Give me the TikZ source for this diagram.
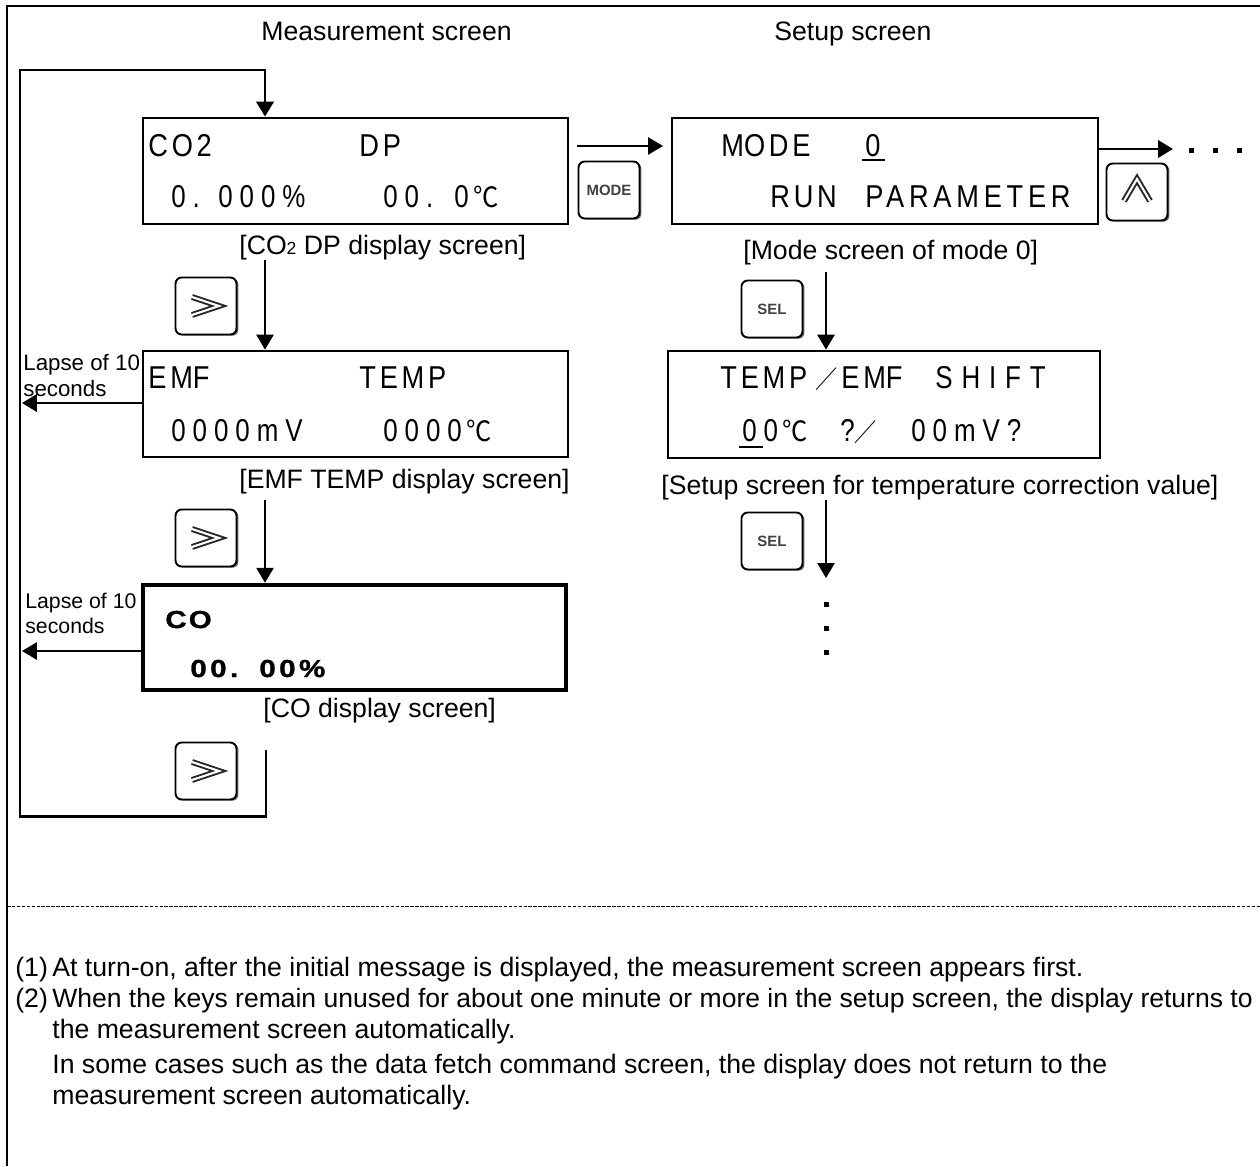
\documentclass[tikz,border=0pt]{standalone}
\usepackage{fontspec}
\setmainfont{Liberation Sans}
\newfontfamily\lcdfont[FakeStretch=0.82,LetterSpace=22]{Liberation Sans}
\newfontfamily\lcdwide[FakeStretch=0.82,LetterSpace=28]{Liberation Sans}
\newfontfamily\lcdtight[FakeStretch=0.86,LetterSpace=12]{Liberation Sans}
\newfontfamily\lcdmid[FakeStretch=0.86,LetterSpace=15]{Liberation Sans}
\newfontfamily\lcdheavy[FakeStretch=1.2,LetterSpace=14,FakeBold=1.2]{Liberation Sans Bold}
\newfontfamily\degfont[FakeStretch=0.9]{Noto Sans CJK JP}
\newcommand{\degC}{\kern2.5pt{\degfont\fontsize{16}{16}\selectfont ℃}}
\newcommand{\wideslash}{{\degfont\fontsize{14}{14}\selectfont ／}}
\usetikzlibrary{arrows.meta,shadows}

\tikzset{
    screen/.style={draw, line width=1.6pt, inner sep=0pt},
    lcd/.style={anchor=base west, inner sep=0pt, font=\lcdfont\fontsize{18}{18}\selectfont},
    lcdword/.style={anchor=base west, inner sep=0pt, font=\lcdtight\fontsize{18}{18}\selectfont},
    lcdlong/.style={anchor=base west, inner sep=0pt, font=\lcdmid\fontsize{18}{18}\selectfont},
    lcdspaced/.style={anchor=base west, inner sep=0pt, font=\lcdwide\fontsize{18}{18}\selectfont},
    lcdbold/.style={anchor=base west, inner sep=0pt, font=\lcdheavy\fontsize{14}{14}\selectfont},
    caption/.style={anchor=base west, inner sep=0pt, font=\fontsize{15.17}{15.17}\selectfont},
    lapse/.style={anchor=base west, inner sep=0pt, font=\fontsize{12.7}{12.7}\selectfont},
    lapsesmall/.style={anchor=base west, inner sep=0pt, font=\fontsize{12.1}{12.1}\selectfont},
    keycap/.style={draw, line width=1.1pt, rounded corners=3.5pt, fill=white,
        minimum width=1.22cm, minimum height=1.14cm, inner sep=0pt,
        general shadow={fill=black!60, shadow xshift=1.1pt, shadow yshift=-0.7pt},
        font=\bfseries\fontsize{8.5}{8.5}\selectfont, text=black!75},
    chevron/.style={draw=black!85, double=white, line width=1.1pt, double distance=1.2pt, line join=miter},
    wire/.style={->, line width=1.1pt},
    wireb/.style={->, line width=1.7pt},
}

\begin{document}
\begin{tikzpicture}[x=0.02cm, y=-0.02cm, >={Triangle[length=8.5pt,width=9.8pt]}]

    % ── Page: pixel coordinates of the 1260x1166 image, y downwards ──────────
    \useasboundingbox (0,0) rectangle (1260,1166);

    % Frame has only a left and a top edge
    \draw[line width=1.2pt] (7,1166) -- (7,6) -- (1260,6);
    \draw[line width=0.4pt, dash pattern=on 2pt off 0.8pt] (7,906) -- (1260,906);

    % ── Headings ─────────────────────────────────────────────────────────────
    \node[caption] (measurehead) at (261,41) {Measurement screen};
    \node[caption] (setuphead) at (774,41) {Setup screen};

    % ── Screens ──────────────────────────────────────────────────────────────
    \node[screen, minimum width=8.5cm, minimum height=2.12cm] (codp) at (355.5,171) {};
    \node[screen, minimum width=8.5cm, minimum height=2.12cm] (emf) at (355.5,404) {};
    \node[screen, line width=2.6pt, minimum width=8.46cm, minimum height=2.1cm] (co) at (354.5,637.5) {};
    \node[screen, minimum width=8.52cm, minimum height=2.12cm] (mode) at (885,171) {};
    \node[screen, minimum width=8.64cm, minimum height=2.14cm] (temp) at (884,404.5) {};

    % CO2 DP
    \node[lcdword] (codpa) at (148,156) {CO2};
    \node[lcdword] (codpb) at (359,156) {DP};
    \node[lcd] (codpc) at (171,207) {0.};
    \node[lcd] (codpd) at (218,207) {000\%};
    \node[lcd] (codpe) at (383,207) {00.};
    \node[lcd] (codpf) at (454,207) {0\degC};
    \node[caption] (codpcap) at (239,254) {[CO{\fontsize{10}{10}\selectfont 2} DP display screen]};

    % EMF TEMP
    \node[lcdword] (emfa) at (148,388) {EM\kern0pt F};
    \node[lcdword] (emfb) at (359,388) {TEMP};
    \node[lcd] (emfc) at (171,441) {0000mV};
    \node[lcd] (emfd) at (383,441) {0000\degC};
    \node[caption] (emfcap) at (239,488) {[EMF TEMP display screen]};

    % CO
    \node[lcdbold] (coa) at (165,628) {C\kern1.2pt O};
    \node[lcdbold] (cob) at (190,677) {00.};
    \node[lcdbold] (coc) at (259,677) {00\%};
    \node[caption] (cocap) at (263,717) {[CO display screen]};

    % Mode 0
    \node[lcdword] (modea) at (721,156) {M\kern0pt ODE};
    \node[lcdword] (modeb) at (865,156) {0};
    \node[lcdword] (modec) at (770,207) {RUN};
    \node[lcdlong] (moded) at (865,207) {PARAMETER};
    \draw[line width=0.9pt] (862,160) -- (885,160);
    \node[caption] (modecap) at (743,259) {[Mode screen of mode 0]};

    % Temperature correction
    \node[lcdword] (tempa) at (720,388) {TEMP};
    \node[lcdword] (tempb) at (815,388) {\wideslash};
    \node[lcdword] (tempc) at (841,388) {EM\kern0pt F};
    \node[lcdspaced] (tempd) at (935,388) {SHIFT};
    \node[lcd] (tempe) at (742,441) {00\degC};
    \node[lcd] (tempf) at (840,441) {?};
    \node[lcd] (tempg) at (854,441) {\wideslash};
    \node[lcd] (temph) at (911,441) {00mV?};
    \draw[line width=0.9pt] (739,447) -- (763,447);
    \node[caption] (tempcap) at (661,494) {[Setup screen for temperature correction value]};

    % ── Keys ─────────────────────────────────────────────────────────────────
    \node[keycap] (modekey) at (609,190) {MODE};
    \node[keycap] (upkey) at (1137,192) {};
    \node[keycap] (selA) at (772,309) {SEL};
    \node[keycap] (selB) at (772,541) {SEL};
    \node[keycap] (nextA) at (206,306) {};
    \node[keycap] (nextB) at (206,538) {};
    \node[keycap] (nextC) at (206,771) {};

    \foreach \k in {nextA,nextB,nextC}
        \draw[chevron] (\k.center) ++(-14,-9) -- ++(27,9) -- ++(-27,9);
    \draw[chevron] (upkey.center) ++(-13,9) -- ++(13,-22) -- ++(13,22);

    % ── Connectors ───────────────────────────────────────────────────────────
    \coordinate (loopend) at (266,750);
    \coordinate (looptop) at (265,70);
    \coordinate (modefrom) at (577,146);
    \coordinate (modeto) at (663,146);
    \coordinate (upto) at (1173,149);
    \coordinate (downA) at (265,260);
    \coordinate (downB) at (265,500);
    \coordinate (downC) at (826,272);
    \coordinate (downD) at (826,500);
    \coordinate (downDto) at (826,578);
    \coordinate (retrace) at (22,403);
    \coordinate (retraceb) at (22,651);

    \draw[wireb] (loopend) -- (266,816) -- (20,816) -- (20,70) -- (looptop) -- (looptop |- codp.north);
    \draw[wire] (downA) -- (downA |- emf.north);
    \draw[wire] (downB) -- (downB |- co.north);
    \draw[wire] (downC) -- (downC |- temp.north);
    \draw[wire] (downD) -- (downDto);
    \draw[wire] (modefrom) -- (modeto);
    \draw[wireb] (mode.east |- upto) -- (upto);
    \draw[wireb] (emf.west |- retrace) -- (retrace);
    \draw[wire] (co.west |- retraceb) -- (retraceb);

    % Continuation dots
    \foreach \x in {1191,1215,1239}
        \fill (\x-2.5,148) rectangle (\x+2.5,153);
    \foreach \y in {604,628,652}
        \fill (824,\y-2.5) rectangle (829,\y+2.5);

    % ── Lapse labels ─────────────────────────────────────────────────────────
    \node[lapse] (lapseA) at (23,370) {Lapse of 10};
    \node[lapse] (lapseB) at (23,396) {seconds};
    \node[lapsesmall] (lapseC) at (25,608) {Lapse of 10};
    \node[lapsesmall] (lapseD) at (25,633) {seconds};

    % ── Notes ────────────────────────────────────────────────────────────────
    \node[caption] (noteAn) at (15,976) {(1)};
    \node[caption] (noteA) at (52,976) {At turn-on, after the initial message is displayed, the measurement screen appears first.};
    \node[caption] (noteBn) at (15,1007) {(2)};
    \node[caption, font=\fontsize{15.1}{15.1}\selectfont] (noteB) at (52,1007) {When the keys remain unused for about one minute or more in the setup screen, the display returns to};
    \node[caption] (noteC) at (52,1038) {the measurement screen automatically.};
    \node[caption] (noteD) at (52,1073) {In some cases such as the data fetch command screen, the display does not return to the};
    \node[caption] (noteE) at (52,1104) {measurement screen automatically.};

\end{tikzpicture}
\end{document}
